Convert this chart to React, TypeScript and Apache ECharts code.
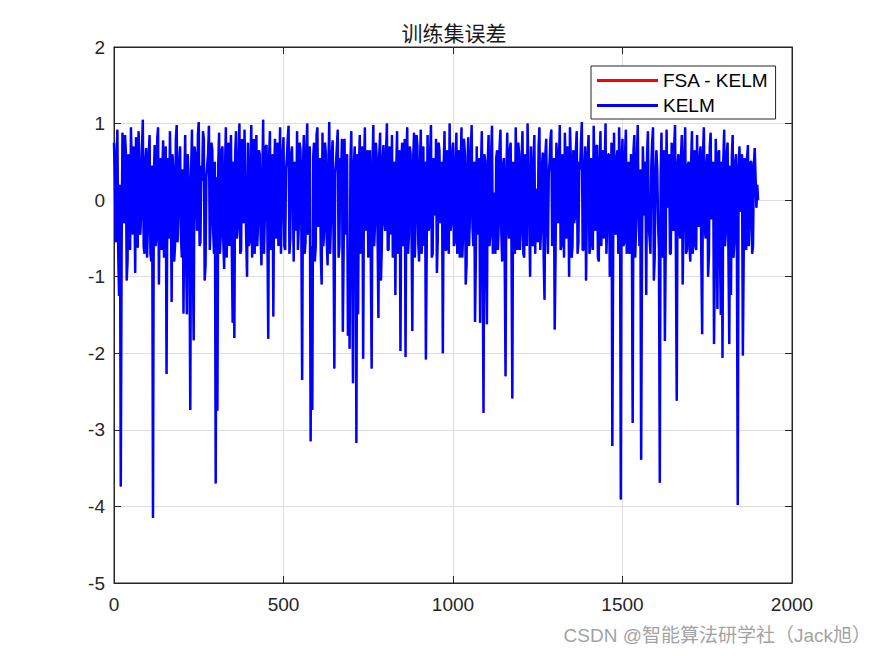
import React, { useEffect, useRef } from "react";
import * as echarts from "echarts";

// sample spacing of the read-off values
const STEP = 5;

// KELM training-set error at x = 0, 5, 10, ... 1900
const kelmValues: number[] = [
  // 0-95
  0.75, -0.55, 0.92, -1.25, -3.74, 0.88, -0.3, 0.62, -0.78, 0.35, 0.95, -0.45, 0.15, 0.82, -0.62, 0.5, -0.2, 1.05, -0.7, 0.68,
  // 100-195
  -0.35, 0.85, -0.8, -4.15, 0.72, -0.5, 0.95, 0.1, -0.65, 0.78, -0.25, -2.27, 0.55, 0.9, -1.33, 0.4, -0.6, 0.98, -0.15, 0.7,
  // 200-295
  -0.75, -1.48, 0.85, -1.49, 0.3, -2.74, 0.92, -1.83, 0.6, -0.4, 1.02, -0.55, 0.25, 0.8, -0.85, 0.45, 0.97, -0.3, 0.65, -0.7,
  // 300-395
  -3.7, -2.75, 0.88, -0.45, 0.7, -0.9, 0.95, 0.2, -0.6, 0.85, -1.6, -1.8, 0.9, -0.35, 1.0, -0.65, 0.5, 0.92, -0.5, 0.75,
  // 400-495
  -0.55, 0.98, 0.1, -0.7, 0.85, -0.3, 0.6, -0.85, 1.05, -0.2, 0.72, -1.81, 0.9, -0.45, -1.52, 0.8, 0.3, -0.6, 0.95, -0.1,
  // 500-595
  0.82, -0.65, 0.55, 0.97, -0.5, 0.7, -0.8, 0.4, 0.9, -0.35, 0.65, -2.35, 0.85, -0.55, 1.0, -0.2, -3.15, -2.74, 0.75, -0.6,
  // 600-695
  0.95, 0.15, -0.7, 0.88, -0.4, 0.6, -0.85, 1.02, -0.25, 0.78, -2.2, 0.5, 0.92, -0.6, 0.35, -1.72, 0.8, -0.45, -1.77, -1.94,
  // 700-795
  0.9, -2.39, 0.7, -3.17, -1.49, 0.85, -0.5, -2.07, 0.95, 0.2, -0.75, 0.65, -2.2, 0.98, -0.3, 0.55, -1.54, 0.88, -0.6, 0.72,
  // 800-895
  -0.4, 1.0, -0.65, 0.45, 0.85, -0.3, -1.24, 0.9, 0.1, -1.97, 0.75, -0.55, -2.05, 0.95, -0.45, 0.6, -1.71, 0.88, -0.2, 0.7,
  // 900-995
  -0.8, 0.92, 0.3, -0.6, -2.08, 0.85, -0.35, 0.98, -0.7, 0.5, 0.8, -0.5, 0.65, -0.15, -2.0, 0.9, -0.65, 0.4, 1.0, -0.3,
  // 1000-1095
  0.75, -0.55, 0.88, 0.2, -0.75, 0.95, -0.4, 0.6, -0.85, 0.82, -0.2, 0.98, -0.6, -1.59, 0.7, -0.35, -1.6, 0.9, -2.78, 0.5,
  // 1100-1195
  -1.62, 0.85, -0.45, 0.97, 0.1, -0.7, 0.65, -0.3, 0.92, -0.8, 0.55, -2.3, 0.88, -0.5, 0.75, -2.59, 0.3, 0.95, -0.65, 0.6,
  // 1200-1295
  -0.4, 0.9, -0.75, 0.45, 1.0, -0.25, 0.7, -0.6, 0.85, 0.15, -0.55, 0.95, -0.35, 0.62, -1.3, 0.8, -0.7, 0.5, 0.92, -0.45,
  // 1300-1395
  -1.69, 0.75, -0.3, 0.98, -0.6, 0.55, 0.88, -0.5, 0.2, 0.95, -0.75, 0.65, -0.2, 0.9, -0.55, 0.4, 1.02, -0.65, 0.7, -0.1,
  // 1400-1495
  0.85, -0.6, 0.5, 0.97, -0.4, 0.72, -0.8, 0.9, 0.1, -0.5, 1.0, -0.3, 0.6, -0.7, -3.21, 0.88, -0.45, 0.65, 0.95, -3.91,
  // 1500-1595
  0.8, -0.55, 0.92, 0.25, -0.7, 0.6, -2.91, 0.85, -0.35, 0.98, -0.6, -3.39, 0.7, -0.2, -1.24, 0.9, -0.5, 0.45, 0.95, -0.75,
  // 1600-1695
  0.65, -0.3, -3.69, 0.88, -0.55, -1.84, 0.92, 0.15, -0.7, 0.75, -0.4, 0.98, -2.62, 0.6, -0.5, 0.85, -0.25, 0.95, -0.65, 0.5,
  // 1700-1795
  -0.8, 0.9, 0.2, -0.6, 0.85, -0.35, 0.7, -1.75, 0.95, -0.5, 0.6, -0.7, 0.88, 0.1, -1.88, 0.8, -1.42, 0.65, -1.5, -2.06,
  // 1800-1895
  0.92, -0.4, 0.75, -1.88, -1.24, 0.85, -0.55, 0.6, -3.98, 0.7, 0.3, -2.03, 0.55, -0.65, 0.72, -0.3, 0.5, -0.6, 0.68, -0.1,
  // 1900
  0.0,
];

// KELM training-set error at the in-between samples x = 2.5, 7.5, ... 1897.5
const kelmMidValues: number[] = [
  0.3, 0.55, -0.7, 0.2, -0.6, 0.1, 0.85, -1.05, 0.6, -0.65, 0.4, 0.7, -0.95, 0.05, 0.9, -0.45, 0.65, -0.6, 0.5, -0.75,
  0.6, -0.7, 0.45, 0.3, -0.6, 0.8, -1.1, 0.55, 0.35, -0.75, 0.7, 0.15, -0.5, 0.25, 0.6, -0.8, 0.8, -0.55, 0.5, -0.45,
  0.4, 0.2, -0.65, 0.6, -0.5, 0.35, -0.7, 0.7, 0.05, 0.85, -0.6, 0.45, 0.9, -1.05, 0.3, 0.6, -0.65, 0.75, -0.4, 0.5,
  0.3, 0.45, -0.7, 0.65, -0.55, 0.4, -0.75, 0.75, 0.3, -0.65, 0.5, 0.6, -0.5, 0.55, -0.7, 0.8, -0.3, 0.15, -1.0, -0.6,
  0.5, -0.75, 0.8, 0.25, -0.6, 0.65, -0.45, 0.3, -0.7, 0.7, -0.4, 0.55, -0.65, 0.6, 0.35, -0.5, 0.75, 0.4, -0.7, 0.6,
  -0.6, 0.4, 0.8, -0.7, 0.6, 0.15, 0.5, -0.4, -0.65, 0.75, -0.25, 0.45, -0.7, 0.65, -0.45, 0.7, -0.6, 0.55, -0.8, 0.85,
  -0.35, 0.55, -1.1, -0.6, 0.75, -0.5, 0.45, -0.7, 0.6, -0.45, 0.35, 0.7, -0.75, 0.55, 0.8, -0.6, -0.35, 0.6, -0.7, 0.5,
  -0.65, 0.45, 0.25, 0.6, 0.4, -0.7, 0.7, 0.35, -0.4, 0.65, 0.5, -0.75, 0.45, -0.6, 0.75, -0.45, 0.6, -1.05, 0.55, -0.3,
  0.6, -0.65, 0.7, -0.45, -0.75, 0.5, 0.35, -0.7, 0.65, 0.4, -0.6, 0.8, 0.45, -0.7, 0.7, -0.3, 0.5, -0.75, 0.85, -0.55,
  0.45, -0.7, 0.7, 0.5, -0.6, -0.4, 0.6, -0.75, 0.55, -0.2, -0.95, 0.75, -0.3, 0.5, 0.4, -0.65, 0.65, -0.7, -0.4, 0.6,
  -0.6, 0.5, -0.7, 0.65, 0.35, -0.75, 0.8, -1.1, 0.45, -0.6, 0.6, -0.35, 0.5, -0.7, -0.45, 0.55, 0.4, -0.65, 0.6, -0.75,
  0.5, -0.6, 0.6, -0.7, -0.35, 0.55, -0.65, 0.7, -0.4, 0.45, -0.75, 0.35, -0.25, 0.65, -0.6, 0.5, -0.7, 0.2, 0.75, -0.65,
  0.55, -0.7, 0.6, -0.6, 0.35, -1.0, -0.45, 0.5, -0.7, -0.2, 0.7, -0.65, 0.45, -0.75, 0.6, -0.3, 0.35, 0.8, -0.6, 0.55,
  -0.7, 0.5, 0.45, -0.65, 0.6, -0.75, 0.35, 0.7, -1.0, 0.55, -0.6, -0.3, 0.65, -0.7, 0.5, 0.75, -0.65, 0.45, -1.05, 0.6,
  -0.7, 0.55, -0.65, 0.4, 0.7, -0.75, 0.5, -0.6, 0.65, 0.45, -0.7, 0.6, -1.0, 0.75, -0.6, -0.4, 0.55, -0.7, 0.35, 0.5,
  -0.6, 0.6, -0.7, 0.5, -0.65, -0.3, 0.65, -0.75, 0.55, -0.2, 0.4, -0.7, 0.25, 0.5, 0.6, -0.35, -0.7, 0.75, -1.05, 0.35,
  0.4, -0.65, 0.3, -0.75, 0.65, -0.6, -0.1, 0.6, -0.7, -0.3, 0.7, -0.65, 0.45, -0.35, 0.55, -1.1, 0.6, -0.7, 0.45, -0.6,
  0.5, -0.7, 0.65, -0.65, -0.1, 0.55, -0.75, 0.6, -0.3, 0.45, -1.0, 0.7, -0.25, 0.5, -0.7, 0.35, 0.6, -0.65, 0.5, 0.55,
  -0.6, 0.6, -0.7, 0.45, 0.55, -0.75, 0.5, -0.65, 0.4, -0.15, 0.6, -0.7, -0.2, 0.55, -0.6, 0.5, -0.7, 0.45, 0.3, 0.2,
];

// FSA - KELM error: practically coincides with KELM (hidden beneath it)
const fsaValues: number[] = kelmValues;
const fsaMidValues: number[] = kelmMidValues;

const seriesNames = ["FSA - KELM", "KELM"];
const seriesColors = ["#ff0000", "#0000ff"];
const titleText = "训练集误差";
const watermark = "CSDN @智能算法研学社（Jack旭）";

const xMin = 0, xMax = 2000, xInterval = 500;
const yMin = -5, yMax = 2, yInterval = 1;

const toPairs = (vals: number[], mids: number[]) => {
  const out: number[][] = [];
  vals.forEach((v, i) => {
    out.push([i * STEP, v]);
    if (i < mids.length) out.push([i * STEP + STEP / 2, mids[i]]);
  });
  return out;
};

export default function App() {
  const ref = useRef<HTMLDivElement>(null);
  useEffect(() => {
    document.body.style.margin = "0";
    if (!ref.current) return;
    const chart = echarts.init(ref.current, undefined, { renderer: "svg" });
    const axisColor = "#262626";
    const font = "'Liberation Sans', Arial, sans-serif";
    const baseX = {
      type: "value" as const,
      min: xMin,
      max: xMax,
      interval: xInterval,
      axisLine: { show: true, onZero: false, lineStyle: { color: axisColor, width: 1 } },
      axisTick: { show: true, inside: true, length: 7, lineStyle: { color: axisColor } },
    };
    const baseY = {
      type: "value" as const,
      min: yMin,
      max: yMax,
      interval: yInterval,
      axisLine: { show: true, onZero: false, lineStyle: { color: axisColor, width: 1 } },
      axisTick: { show: true, inside: true, length: 7, lineStyle: { color: axisColor } },
    };
    chart.setOption({
      animation: false,
      backgroundColor: "#ffffff",
      title: {
        text: titleText,
        left: 454,
        textAlign: "center",
        top: 14,
        padding: 0,
        textStyle: {
          fontFamily: "'Noto Sans CJK SC', sans-serif",
          fontSize: 21,
          lineHeight: 36,
          fontWeight: "normal",
          color: "#1a1a1a",
        },
      },
      legend: {
        data: seriesNames,
        orient: "vertical",
        left: 591,
        top: 66,
        icon: "rect",
        itemWidth: 61,
        itemHeight: 3,
        itemGap: 6,
        padding: [5, 7, 4, 6],
        borderColor: axisColor,
        borderWidth: 1,
        borderRadius: 0,
        backgroundColor: "#ffffff",
        textStyle: { fontFamily: font, fontSize: 19, color: "#000000" },
      },
      grid: {
        left: 114,
        top: 47,
        width: 678,
        height: 536,
        show: true,
        borderColor: axisColor,
        borderWidth: 1,
        backgroundColor: "#ffffff",
      },
      xAxis: [
        {
          ...baseX,
          position: "bottom",
          axisLabel: {
            show: true,
            fontFamily: font,
            fontSize: 19,
            color: axisColor,
            margin: 12,
            formatter: (v: number) => String(v),
          },
          splitLine: { show: true, lineStyle: { color: "#dedede", width: 1 } },
        },
        {
          ...baseX,
          position: "top",
          axisLabel: { show: false },
          splitLine: { show: false },
        },
      ],
      yAxis: [
        {
          ...baseY,
          position: "left",
          axisLabel: {
            show: true,
            fontFamily: font,
            fontSize: 19,
            color: axisColor,
            margin: 9,
            formatter: (v: number) => String(v),
          },
          splitLine: { show: true, lineStyle: { color: "#dedede", width: 1 } },
        },
        {
          ...baseY,
          position: "right",
          axisLabel: { show: false },
          splitLine: { show: false },
        },
      ],
      series: [
        {
          name: seriesNames[0],
          type: "line",
          data: toPairs(fsaValues, fsaMidValues),
          showSymbol: false,
          symbol: "none",
          color: seriesColors[0],
          lineStyle: { color: seriesColors[0], width: 1 },
          xAxisIndex: 0,
          yAxisIndex: 0,
        },
        {
          name: seriesNames[1],
          type: "line",
          data: toPairs(kelmValues, kelmMidValues),
          showSymbol: false,
          symbol: "none",
          color: seriesColors[1],
          lineStyle: { color: seriesColors[1], width: 2.5 },
          xAxisIndex: 0,
          yAxisIndex: 0,
        },
      ],
      graphic: [
        {
          type: "text",
          right: 4,
          top: 626,
          style: {
            text: watermark,
            fill: "#a3a3a3",
            font: "19px 'Liberation Sans', 'Noto Sans CJK SC', sans-serif",
          },
        },
      ],
    });
    return () => chart.dispose();
  }, []);
  return (
    <div
      ref={ref}
      style={{ position: "absolute", left: 0, top: 0, width: 875, height: 656 }}
    />
  );
}
